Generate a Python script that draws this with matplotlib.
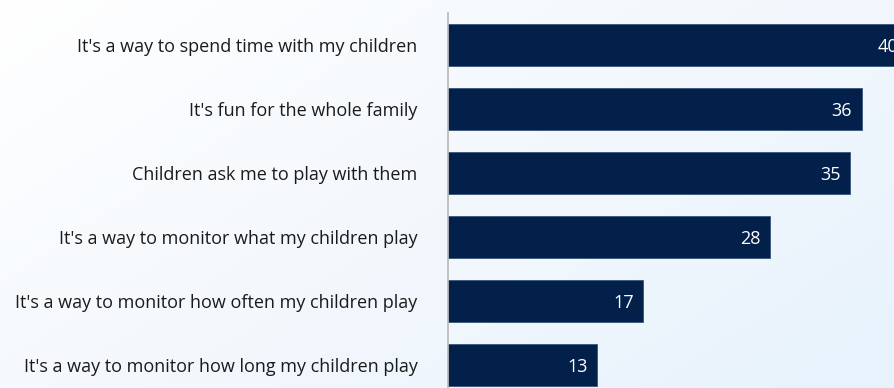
import numpy as np
import matplotlib.pyplot as plt
from matplotlib.colors import LinearSegmentedColormap

reasons = [
    "It's a way to spend time with my children",
    "It's fun for the whole family",
    "Children ask me to play with them",
    "It's a way to monitor what my children play",
    "It's a way to monitor how often my children play",
    "It's a way to monitor how long my children play",
]
values = [40, 36, 35, 28, 17, 13]

navy = "#02204a"
plt.rcParams['font.family'] = ['Open Sans', 'DejaVu Sans']

fig = plt.figure(figsize=(8.95, 3.88), dpi=100)

# soft diagonal background wash
bg = fig.add_axes([0, 0, 1, 1], zorder=-1)
gx, gy = np.meshgrid(np.linspace(0, 1, 300), np.linspace(0, 1, 150))
grad = (gx * 0.6 + gy * 0.4)
cmap = LinearSegmentedColormap.from_list("wash", ["#ffffff", "#f3f8fd", "#e7f2fc"])
bg.imshow(grad, cmap=cmap, aspect="auto", extent=[0, 1, 0, 1], origin="upper")
bg.axis("off")

ax = fig.add_axes([448 / 895, 0, 447 / 895, 375 / 388])
ax.patch.set_alpha(0)
y = np.arange(len(reasons))
ax.barh(y, values, height=0.66, color=navy, edgecolor="#3a5578", linewidth=0.6)

ax.set_xlim(0, 447 / 11.5)
ax.set_ylim(5.36, -0.5)
ax.set_yticks(y)
ax.set_yticklabels(reasons, fontsize=13, color="#1b1b1b")
ax.tick_params(axis="y", length=0, pad=22)
ax.set_xticks([])

for s in ["top", "right", "bottom"]:
    ax.spines[s].set_visible(False)
ax.spines["left"].set_color("#b8b8b8")
ax.spines["left"].set_linewidth(1.2)

for yi, v in zip(y, values):
    ax.text(v - 0.85, yi + 0.03, str(v), ha="right", va="center",
            color="white", fontsize=13, clip_on=True)

fig.savefig("out.png", dpi=100)
